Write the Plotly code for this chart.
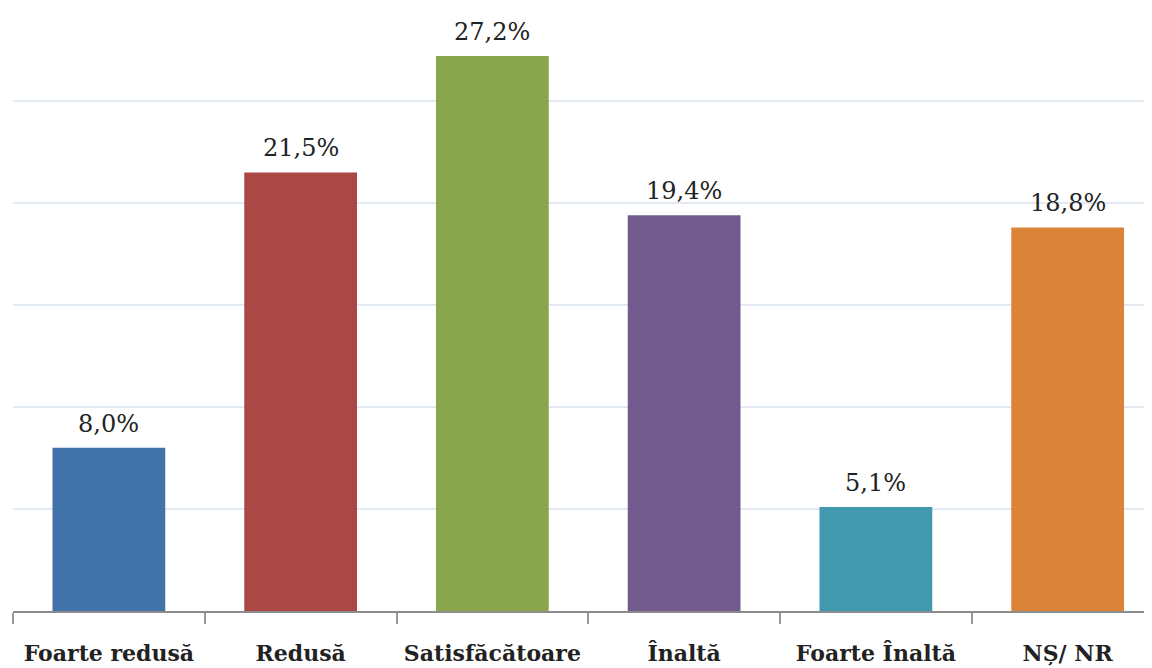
import plotly.graph_objects as go

categories = ["Foarte redusă", "Redusă", "Satisfăcătoare", "Înaltă", "Foarte Înaltă", "NȘ/ NR"]
values = [8.0, 21.5, 27.2, 19.4, 5.1, 18.8]
colors = ["#4173A8", "#AB4744", "#8AA64C", "#725A8F", "#4199AF", "#DC833A"]
labels = [f"{v:.1f}%".replace(".", ",") for v in values]

FONT = "DejaVu Serif"

fig = go.Figure(
    go.Bar(
        x=categories,
        y=values,
        marker=dict(color=colors, line=dict(width=0)),
        hoverinfo="skip",
    )
)

for c, v, t in zip(categories, values, labels):
    fig.add_annotation(
        x=c, y=v, text=t, showarrow=False, yanchor="bottom", yshift=8,
        font=dict(family=FONT, size=24, color="#222222"),
    )

fig.update_layout(
    width=1152,
    height=668,
    margin=dict(l=5, r=0, t=0, b=65),
    plot_bgcolor="white",
    paper_bgcolor="white",
    bargap=0.412,
    showlegend=False,
    font=dict(family=FONT),
    xaxis=dict(
        type="category",
        range=[-0.5, -0.5 + 1147 / 191.75],
        tickson="boundaries",
        ticks="outside",
        ticklen=11,
        tickwidth=1.5,
        tickcolor="#999999",
        showline=True,
        linecolor="#8c8c8c",
        linewidth=2,
        showgrid=False,
        automargin=False,
        tickangle=0,
        tickfont=dict(family=FONT, size=22, color="#222222", weight="bold"),
        ticklabelstandoff=22,
    ),
    yaxis=dict(
        range=[0, 603 / 20.4],
        dtick=5,
        showgrid=True,
        gridcolor="#e3e9f3",
        gridwidth=1.5,
        zeroline=False,
        showticklabels=False,
        showline=False,
        automargin=False,
        fixedrange=True,
    ),
)

fig.write_html("out.html")
